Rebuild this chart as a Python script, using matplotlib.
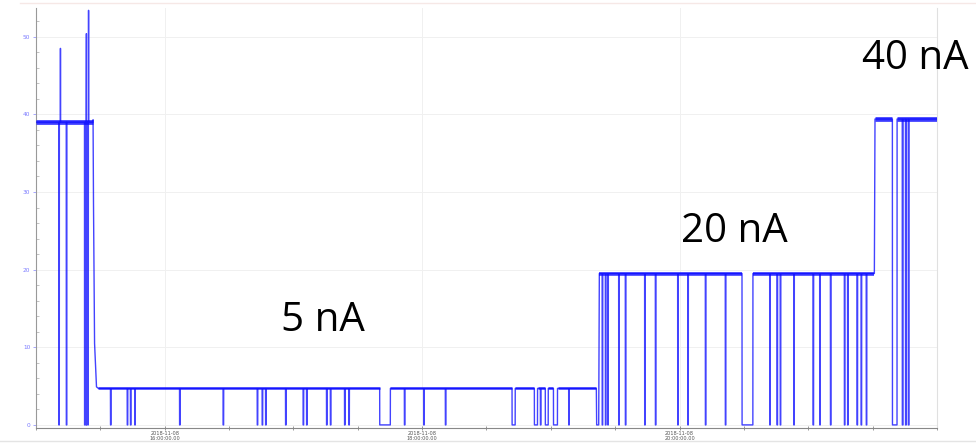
import numpy as np
import pandas as pd
import matplotlib
matplotlib.use('Agg')
import matplotlib.pyplot as plt
import matplotlib.dates as mdates
from matplotlib.lines import Line2D

# beam current log, 2018-11-08, times in minutes after 15:00
t0 = pd.Timestamp('2018-11-08 15:00:00')

# flat stretches of the current (nA)
plateau_start = [0.0, 29.1, 262.6, 391.1]
plateau_end = [26.6, 261.2, 390.8, 420.0]
plateau_level = [39.0, 4.7, 19.5, 39.4]

# switch 40 -> 5 nA, 5 -> 20 nA, 20 -> 40 nA
ramp_min = [26.6, 26.8, 27.3, 28.2, 29.1]
ramp_val = [39.3, 28.6, 10.5, 4.9, 4.7]
switch_min = [261.2, 261.35, 262.3, 262.6]
switch_val = [4.7, 0.0, 0.0, 19.5]
rise_min = [390.8, 391.1]
rise_val = [19.5, 39.4]

# short spikes at the start
spike_min = [11.4, 23.5, 24.5]
spike_val = [48.5, 50.4, 53.4]

# beam trips down to 0 nA: start and length (minutes)
drop_min = [10.6, 14.1, 22.6, 23.3, 24.1,
            34.7, 42.5, 44.0, 46.0, 66.9, 87.2, 103.1, 105.4, 107.0, 116.3,
            124.5, 126.1, 135.4, 137.2, 143.8, 145.8, 160.2, 171.7, 180.7,
            190.8, 221.9, 232.3, 235.1, 237.4, 241.2, 248.3,
            263.9, 265.4, 266.5, 271.6, 274.7, 283.7, 288.7, 299.1, 303.8,
            312.0, 321.3, 329.1, 342.0, 345.4, 346.9, 353.2, 362.2, 365.3,
            370.3, 376.8, 378.3, 382.7, 384.6, 387.0,
            399.2, 403.8, 405.3, 406.6]
drop_len = [0.3, 0.3, 0.3, 0.3, 0.3,
            0.3, 0.3, 0.3, 0.3, 0.3, 0.3, 0.3, 0.3, 0.3, 0.3,
            0.3, 0.3, 0.3, 0.3, 0.3, 0.3, 5.0, 0.3, 0.3,
            0.3, 1.5, 1.5, 0.3, 1.4, 1.9, 0.3,
            0.3, 0.3, 0.3, 0.3, 0.3, 0.3, 0.3, 0.3, 0.3,
            0.3, 0.3, 5.1, 0.3, 0.3, 0.3, 0.3, 0.3, 0.3,
            0.3, 0.3, 0.3, 0.3, 0.3, 0.3,
            2.2, 0.4, 0.4, 0.4]


def level_at(m):
    for s, e, v in zip(plateau_start, plateau_end, plateau_level):
        if s <= m <= e:
            return v
    return 0.0


pts = []
for s, e, v in zip(plateau_start, plateau_end, plateau_level):
    pts += [(s, v), (e, v)]
pts += list(zip(ramp_min, ramp_val))
pts += list(zip(switch_min, switch_val))
pts += list(zip(rise_min, rise_val))
for m, v in zip(spike_min, spike_val):
    lv = level_at(m)
    pts += [(m - 0.08, lv), (m, v), (m + 0.08, lv)]
for m, L in zip(drop_min, drop_len):
    lv = level_at(m)
    pts += [(m, lv), (m + 0.04, 0.0), (m + L - 0.04, 0.0), (m + L, lv)]
pts.sort(key=lambda p: p[0])
mins = np.array([p[0] for p in pts])
vals = np.array([p[1] for p in pts])
times = t0 + pd.to_timedelta(mins, unit='min')

fig = plt.figure(figsize=(9.76, 4.44), dpi=100)
ax = fig.add_axes([36 / 976, 1 - 428 / 444, 901 / 976, 420 / 444])

ax.plot(times, vals, color='#1414ff', lw=1.0, alpha=0.8, zorder=3)

# thicker band on the flat parts, broken at the long trips
band_lw = [3.4, 1.8, 2.6, 3.4]
for s, e, v, w in zip(plateau_start, plateau_end, plateau_level, band_lw):
    edges = [s]
    for m, L in zip(drop_min, drop_len):
        if L > 1 and s < m < e:
            edges += [m, m + L]
    edges.append(e)
    for a, b in zip(edges[0::2], edges[1::2]):
        seg = t0 + pd.to_timedelta([a, b], unit='min')
        ax.plot(seg, [v, v], color='#0a0aff', lw=w, alpha=0.8,
                solid_capstyle='butt', zorder=4)

ax.set_xlim(t0, t0 + pd.Timedelta(hours=7))
ax.set_ylim(-0.4, 53.7)

ax.xaxis.set_major_locator(mdates.HourLocator(byhour=[16, 18, 20]))
ax.xaxis.set_minor_locator(mdates.MinuteLocator(byminute=[0, 30]))
ax.xaxis.set_major_formatter(mdates.DateFormatter('%Y-%m-%d\n%H:%M:%S.00'))
ax.set_yticks([0, 10, 20, 30, 40, 50])
ax.set_yticks(np.arange(0, 54, 2), minor=True)

ax.tick_params(axis='x', which='both', direction='inout', length=3, width=0.6,
               color='#888888', labelsize=3.6, labelcolor='#555555', pad=1)
ax.tick_params(axis='y', which='major', direction='out', length=2, width=0.6,
               color='#9999ff', labelsize=4.2, labelcolor='#7a7aff', pad=2)
ax.tick_params(axis='y', which='minor', direction='in', length=2, width=0.5,
               color='#aaaaaa')
for lab in ax.get_xticklabels():
    lab.set_linespacing(1.0)

ax.grid(True, which='major', color='#f0f0f0', lw=0.7, zorder=0)
ax.spines['left'].set_color('#999999')
ax.spines['bottom'].set_color('#888888')
ax.spines['right'].set_color('#e0e0e0')
ax.spines['top'].set_visible(False)

# frame lines of the screen capture
fig.add_artist(Line2D([0.02, 1.0], [1 - 3 / 444, 1 - 3 / 444], color='#f6e8e6', lw=1))
fig.add_artist(Line2D([0.0, 1.0], [1 - 441 / 444, 1 - 441 / 444], color='#e4e4e4', lw=1))

lab_font = dict(family=['Open Sans', 'DejaVu Sans'], size=29, color='black',
                ha='left', va='baseline')
fig.text(281 / 976, 1 - 331 / 444, '5 nA', **lab_font)
fig.text(681 / 976, 1 - 242 / 444, '20 nA', **lab_font)
fig.text(862 / 976, 1 - 69 / 444, '40 nA', **lab_font)

fig.savefig('out.png', dpi=100)
